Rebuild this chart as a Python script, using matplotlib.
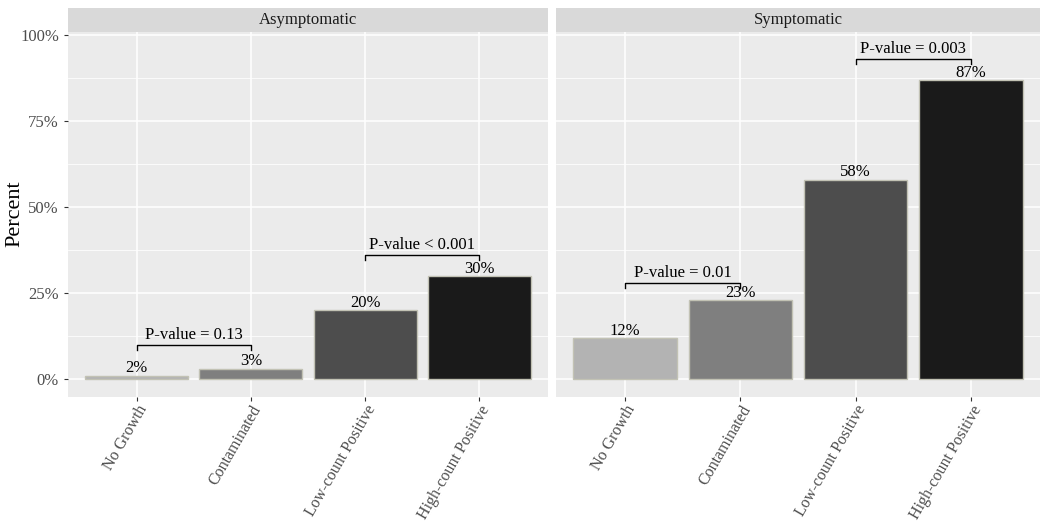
import matplotlib.pyplot as plt
import numpy as np

plt.rcParams['font.family'] = ['Liberation Serif', 'DejaVu Serif']

# data
categories = ['No Growth', 'Contaminated', 'Low-count Positive', 'High-count Positive']
panels = ['Asymptomatic', 'Symptomatic']
values = {
    'Asymptomatic': [1, 3, 20, 30],
    'Symptomatic': [12, 23, 58, 87],
}
labels = {
    'Asymptomatic': ['2%', '3%', '20%', '30%'],
    'Symptomatic': ['12%', '23%', '58%', '87%'],
}
# (from, to, height, text)
pvals = {
    'Asymptomatic': [(1, 2, 10, 'P-value = 0.13'), (3, 4, 36, 'P-value < 0.001')],
    'Symptomatic': [(1, 2, 28, 'P-value = 0.01'), (3, 4, 93, 'P-value = 0.003')],
}
bar_colors = ['#B3B3B3', '#7F7F7F', '#4D4D4D', '#1A1A1A']

W, H = 1050, 523
fig = plt.figure(figsize=(W / 100, H / 100), dpi=100)

panel_x = [(68, 548), (556, 1040)]
top, bottom = 32, 397
strip_h = 24

for i, name in enumerate(panels):
    x0, x1 = panel_x[i]
    ax = fig.add_axes([x0 / W, (H - bottom) / H, (x1 - x0) / W, (bottom - top) / H])
    ax.set_facecolor('#EBEBEB')
    idx = np.arange(1, len(categories) + 1)

    ax.set_xlim(0.4, 4.6)
    ax.set_ylim(-5.2, 100.9)
    ax.set_yticks([0, 25, 50, 75, 100])
    ax.set_yticks([12.5, 37.5, 62.5, 87.5], minor=True)
    ax.set_xticks(idx)
    ax.grid(True, which='major', color='white', linewidth=1.1)
    ax.grid(True, which='minor', axis='y', color='white', linewidth=0.55)
    ax.set_axisbelow(True)
    for s in ax.spines.values():
        s.set_visible(False)

    ax.bar(idx, values[name], width=0.9, color=bar_colors,
           edgecolor='#C2C2B4', linewidth=1.0, zorder=3)
    for xi, v, lab in zip(idx, values[name], labels[name]):
        ax.text(xi, v - 0.2, lab, ha='center', va='bottom', fontsize=12, zorder=4)

    for a, b, h, txt in pvals[name]:
        ax.plot([a, a, b, b], [h - 1.5, h, h, h - 1.5], color='black', lw=1.0, zorder=4)
        ax.text((a + b) / 2, h + 0.6, txt, ha='center', va='bottom', fontsize=12, zorder=4)

    ax.set_xticklabels(categories, rotation=60, ha='right', va='top',
                       rotation_mode='anchor', fontsize=11.5)
    ax.tick_params(axis='x', which='major', pad=1)
    ax.tick_params(axis='both', which='major', length=3, color='#333333',
                   labelcolor='#4D4D4D')
    ax.tick_params(axis='y', labelsize=12)
    ax.tick_params(axis='y', which='minor', length=0)
    if i == 0:
        ax.set_yticklabels(['0%', '25%', '50%', '75%', '100%'])
    else:
        ax.tick_params(axis='y', which='major', length=0, labelleft=False)

    # facet strip
    sx = fig.add_axes([x0 / W, (H - top) / H, (x1 - x0) / W, strip_h / H])
    sx.set_facecolor('#D9D9D9')
    sx.set_xticks([])
    sx.set_yticks([])
    for s in sx.spines.values():
        s.set_visible(False)
    sx.text(0.5, 0.5, name, ha='center', va='center', fontsize=12,
            color='#1A1A1A', transform=sx.transAxes)

fig.text(15 / W, 1 - 214 / H, 'Percent', rotation=90, ha='center', va='center', fontsize=16)

fig.savefig('out.png', dpi=100)
